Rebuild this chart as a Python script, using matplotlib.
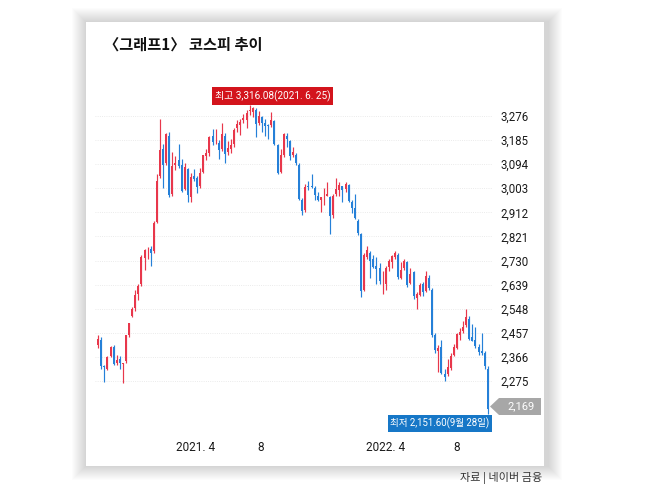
import pandas as pd
import matplotlib.pyplot as plt
from matplotlib.patches import Rectangle, Polygon

# KOSPI, roughly 4 trading days per candle, Sep 2020 - Sep 28 2022
opens = [2410, 2430, 2330, 2320, 2368, 2405, 2345, 2358, 2340, 2350,
         2450, 2520, 2550, 2605, 2640, 2740, 2768, 2772, 2765, 2875,
         3050, 3150, 3100, 3200, 2980, 3090, 3110, 3090, 3000, 3075,
         2970, 3050, 3040, 3010, 3065, 3125, 3135, 3200, 3180, 3175,
         3150, 3200, 3140, 3150, 3170, 3230, 3240, 3260, 3260, 3295,
         3290, 3300, 3250, 3270, 3250, 3240, 3240, 3255, 3165, 3065,
         3130, 3200, 3180, 3130, 3130, 3090, 2960, 2920, 3010, 3010,
         3005, 2975, 2960, 2970, 2975, 2970, 2900, 2980, 2995, 3010,
         3000, 3015, 2950, 2930, 2880, 2830, 2620, 2745, 2760, 2735,
         2710, 2700, 2645, 2640, 2705, 2725, 2745, 2750, 2665, 2700,
         2725, 2645, 2685, 2590, 2600, 2640, 2615, 2665, 2620, 2450,
         2390, 2405, 2300, 2300, 2325, 2375, 2400, 2450, 2465, 2485,
         2510, 2440, 2430, 2405, 2390, 2380, 2320]
highs = [2448, 2440, 2335, 2370, 2408, 2410, 2375, 2370, 2345, 2450,
         2495, 2555, 2620, 2640, 2750, 2775, 2780, 2785, 2878, 3055,
         3266, 3170, 3212, 3215, 3140, 3125, 3170, 3115, 3100, 3080,
         3060, 3075, 3050, 3080, 3130, 3150, 3200, 3225, 3225, 3185,
         3250, 3210, 3180, 3190, 3230, 3260, 3265, 3285, 3300, 3316.08,
         3310, 3305, 3295, 3275, 3265, 3245, 3290, 3262, 3170, 3150,
         3210, 3212, 3185, 3160, 3135, 3100, 2965, 3020, 3030, 3055,
         3010, 2990, 2970, 3005, 3025, 2975, 2980, 3040, 3025, 3012,
         3025, 3020, 2960, 2980, 2885, 2835, 2760, 2785, 2765, 2750,
         2745, 2720, 2690, 2710, 2735, 2750, 2765, 2760, 2725, 2735,
         2730, 2700, 2690, 2610, 2645, 2650, 2690, 2675, 2625, 2455,
         2410, 2430, 2320, 2360, 2380, 2415, 2455, 2475, 2500, 2548,
         2520, 2490, 2480, 2415, 2455, 2390, 2330]
lows = [2400, 2320, 2272, 2315, 2365, 2335, 2335, 2320, 2267, 2345,
        2440, 2515, 2540, 2580, 2635, 2695, 2735, 2710, 2760, 2870,
        3040, 3005, 3090, 2970, 2975, 3070, 3080, 2990, 2995, 2950,
        2950, 3030, 2985, 3005, 3060, 3110, 3125, 3165, 3170, 3115,
        3145, 3100, 3130, 3135, 3160, 3215, 3205, 3250, 3230, 3280,
        3270, 3195, 3240, 3215, 3200, 3190, 3235, 3165, 3055, 3060,
        3120, 3160, 3110, 3120, 3090, 2960, 2901, 2915, 2995, 3005,
        2960, 2955, 2915, 2940, 2975, 2830, 2890, 2975, 2975, 2950,
        2990, 2950, 2910, 2885, 2825, 2591, 2615, 2735, 2665, 2700,
        2640, 2640, 2605, 2620, 2690, 2700, 2735, 2660, 2660, 2695,
        2630, 2640, 2585, 2546, 2595, 2595, 2610, 2620, 2440, 2380,
        2310, 2300, 2276, 2295, 2315, 2370, 2395, 2430, 2455, 2480,
        2430, 2425, 2400, 2375, 2375, 2320, 2151.6]
closes = [2435, 2333, 2327, 2365, 2403, 2341, 2355, 2345, 2343, 2447,
          2493, 2547, 2601, 2634, 2745, 2770, 2770, 2759, 2873, 3031,
          3148, 3092, 3208, 2976, 3087, 3100, 3086, 2994, 3082, 2976,
          3045, 3039, 3008, 3061, 3127, 3135, 3198, 3177, 3181, 3147,
          3209, 3134, 3156, 3165, 3224, 3247, 3252, 3268, 3286, 3297,
          3305, 3246, 3276, 3250, 3236, 3237, 3260, 3171, 3060, 3128,
          3207, 3187, 3125, 3140, 3097, 2962, 2916, 3006, 3007, 3009,
          2976, 2960, 2968, 2971, 2980, 2899, 2973, 3001, 3017, 2998,
          3020, 2953, 2927, 2890, 2834, 2614, 2750, 2771, 2729, 2706,
          2699, 2651, 2645, 2702, 2728, 2746, 2757, 2666, 2696, 2728,
          2639, 2680, 2596, 2604, 2639, 2612, 2670, 2626, 2447, 2391,
          2401, 2305, 2292, 2328, 2370, 2403, 2451, 2461, 2480, 2516,
          2435, 2426, 2409, 2384, 2382, 2332, 2169.29]
dates = pd.date_range('2020-09-15', '2022-09-26', periods=len(closes))

ytick_vals = [2275, 2366, 2457, 2548, 2639, 2730, 2821, 2912, 3003, 3094, 3185, 3276]
xtick_dates = pd.to_datetime(['2021-03-20', '2021-07-21', '2022-03-15', '2022-07-28'])
xtick_labels = ['2021. 4', '8', '2022. 4', '8']

title = '〈그래프1〉 코스피 추이'
high_note = '최고 3,316.08(2021. 6. 25)'
low_note = '최저 2,151.60(9월 28일)'
last_tag = '2,169'
source = '자료 | 네이버 금융'

UP = '#e8374b'
DOWN = '#2580d8'
KR = 'Noto Sans CJK KR'
NUM = ['Roboto', KR, 'DejaVu Sans']

fig = plt.figure(figsize=(6.5, 4.93), dpi=100)

# background layer in pixel units: shadow + white card + texts
bg = fig.add_axes([0, 0, 1, 1])
bg.set_xlim(0, 650)
bg.set_ylim(493, 0)
bg.axis('off')
for k in range(1, 15):
    bg.add_patch(Rectangle((86 - k, 22 - k), 458 + 2 * k + 4, 444 + 2 * k,
                           color='black', alpha=0.011, lw=0))
bg.add_patch(Rectangle((86, 22), 458, 444, facecolor='white', lw=0))

ax = fig.add_axes([95 / 650, (493 - 420) / 493, 397 / 650, 320 / 493])
ax.set_facecolor('none')

cols = [UP if c >= o else DOWN for o, c in zip(opens, closes)]
body_lo = [min(o, c) for o, c in zip(opens, closes)]
body_h = [abs(c - o) for o, c in zip(opens, closes)]
ax.vlines(dates, lows, highs, colors=cols, lw=0.85, zorder=2)
ax.bar(dates, body_h, bottom=body_lo, width=3.8, color=cols, lw=0, zorder=3)

ax.set_xlim(dates[0] - pd.Timedelta(days=6), dates[-1] + pd.Timedelta(days=8))
ax.set_ylim(2128, 3336)

ax.yaxis.tick_right()
ax.set_yticks(ytick_vals, labels=[f'{v:,}' for v in ytick_vals])
ax.set_xticks(xtick_dates, labels=xtick_labels)
ax.tick_params(axis='y', length=0, pad=6, labelsize=8.3, labelcolor='#1a1a1a')
ax.tick_params(axis='x', length=0, pad=15, labelsize=8.5, labelcolor='#1a1a1a')
for lab in ax.get_yticklabels() + ax.get_xticklabels():
    lab.set_family(NUM)
ax.grid(axis='y', color='#e4e4e4', lw=0.6, ls=':')
ax.set_axisbelow(True)
for s in ax.spines.values():
    s.set_visible(False)

bg.text(104, 45, title, fontsize=11, fontweight='heavy', family=KR,
        ha='left', va='center', color='#111111')
bg.text(272.5, 96, high_note, fontsize=7.2, family=NUM, color='white',
        ha='center', va='center',
        bbox=dict(boxstyle='square,pad=0.3', fc='#d3141c', ec='none'))
bg.text(440, 423.5, low_note, fontsize=6.9, family=NUM, color='white',
        ha='center', va='center',
        bbox=dict(boxstyle='square,pad=0.25', fc='#1677c7', ec='none'))
bg.add_patch(Polygon([(490, 406.5), (499, 398), (541, 398), (541, 415), (499, 415)],
                     closed=True, fc='#a7a7a7', ec='none'))
bg.text(521, 406.5, last_tag, fontsize=8, family=NUM, color='white',
        ha='center', va='center')
bg.text(542, 478, source, fontsize=8, family=KR, color='#333333',
        ha='right', va='center')

fig.savefig('out.png', dpi=100)
